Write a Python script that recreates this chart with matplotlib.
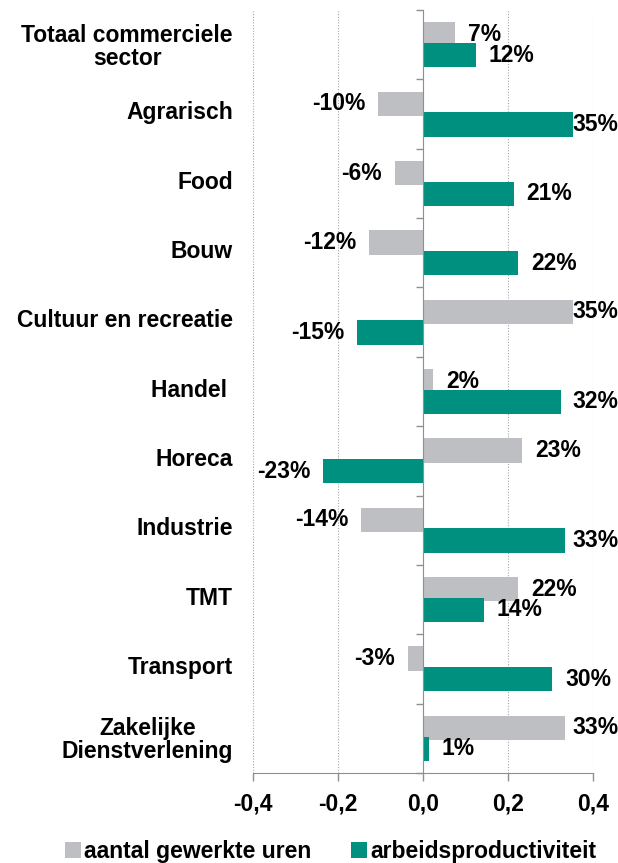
import numpy as np
import matplotlib
matplotlib.use("Agg")
import matplotlib.pyplot as plt
from matplotlib.transforms import blended_transform_factory

plt.rcParams['font.family'] = ['Liberation Sans', 'DejaVu Sans']
plt.rcParams['font.weight'] = 'bold'

# datos
sectores = ["Totaal commerciele\nsector", "Agrarisch", "Food", "Bouw",
            "Cultuur en recreatie", "Handel ", "Horeca", "Industrie", "TMT",
            "Transport", "Zakelijke\nDienstverlening"]
uren = [0.075, -0.106, -0.066, -0.127, 0.353, 0.024, 0.233, -0.146, 0.224, -0.035, 0.334]
productiviteit = [0.125, 0.353, 0.214, 0.224, -0.155, 0.325, -0.235, 0.334, 0.144, 0.304, 0.014]
uren_lbl = ["7%", "-10%", "-6%", "-12%", "35%", "2%", "23%", "-14%", "22%", "-3%", "33%"]
prod_lbl = ["12%", "35%", "21%", "22%", "-15%", "32%", "-23%", "33%", "14%", "30%", "1%"]
xticks = [-0.4, -0.2, 0.0, 0.2, 0.4]
xtick_lbl = ["-0,4", "-0,2", "0,0", "0,2", "0,4"]

gris = "#BEBFC2"
verde = "#00907F"
eje = "#8C9096"
fs = 16.5

fig = plt.figure(figsize=(6.18, 8.63), dpi=100)
ax = fig.add_axes([0.4094, 0.1043, 0.5501, 0.8841])

y = np.arange(len(sectores))
h = 0.35
ax.barh(y - 0.15, uren, height=h, color=gris, label="aantal gewerkte uren", zorder=3)
ax.barh(y + 0.15, productiviteit, height=h, color=verde, label="arbeidsproductiviteit", zorder=3)

# etiquetas de datos
for i in range(len(sectores)):
    for v, lbl, dy in ((uren[i], uren_lbl[i], -0.15), (productiviteit[i], prod_lbl[i], 0.15)):
        if v >= 0:
            xl = min(v + 0.03, 0.352)
            ax.text(xl, y[i] + dy, lbl, ha="left", va="center", fontsize=fs,
                    fontweight="bold", zorder=4, clip_on=False)
        else:
            ax.text(v - 0.03, y[i] + dy, lbl, ha="right", va="center", fontsize=fs,
                    fontweight="bold", zorder=4, clip_on=False)

ax.set_xlim(-0.4, 0.4)
ax.set_ylim(len(sectores) - 0.5, -0.5)
ax.set_xticks(xticks)
ax.set_xticklabels(xtick_lbl, fontsize=fs, fontweight="bold")
ax.tick_params(axis="x", direction="out", length=6, color=eje, width=1, pad=8)

# eje vertical en cero
ax.spines["left"].set_position(("data", 0))
ax.spines["left"].set_color(eje)
ax.spines["left"].set_zorder(5)
ax.spines["bottom"].set_color(eje)
ax.spines["top"].set_visible(False)
ax.spines["right"].set_visible(False)
ax.set_yticks(y)
ax.set_yticklabels([])
ax.set_yticks(np.arange(len(sectores) + 1) - 0.5, minor=True)
ax.tick_params(axis="y", which="major", length=0)
ax.tick_params(axis="y", which="minor", direction="out", length=5, color=eje, width=1)

trans = blended_transform_factory(ax.transAxes, ax.transData)
for i, s in enumerate(sectores):
    dy = 0.03 if "\n" in s else -0.02
    ax.text(-0.059, y[i] + dy, s, transform=trans, ha="right", va="center",
            multialignment="center", fontsize=fs, fontweight="bold", linespacing=1.0)

# rejilla
ax.grid(axis="x", color="#A6A6A6", linestyle=(0, (1, 1.5)), linewidth=0.8, zorder=0)
ax.set_axisbelow(True)

fig.legend(loc="center", bbox_to_anchor=(0.535, 0.013), ncol=2, frameon=False,
           fontsize=fs, handlelength=0.7, handleheight=0.7, handletextpad=0.13,
           columnspacing=1.75)

fig.savefig("out.png", dpi=100)
